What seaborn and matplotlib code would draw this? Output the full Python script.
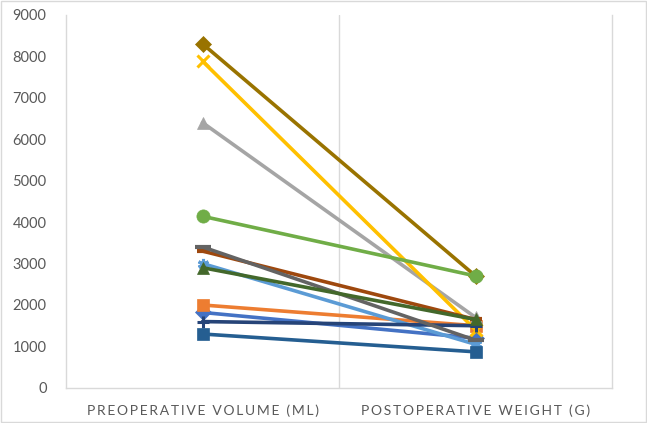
import matplotlib
matplotlib.use("Agg")
import matplotlib.pyplot as plt
import seaborn as sns
import pandas as pd

# data
categories = ["PREOPERATIVE VOLUME (ML)", "POSTOPERATIVE WEIGHT (G)"]
series_names = ["S1", "S2", "S3", "S4", "S5", "S6", "S7", "S8", "S9", "S10", "S11", "S12"]
pre_volume = [1820, 2000, 6400, 7880, 3000, 4140, 1600, 3300, 3400, 8300, 1300, 2900]
post_weight = [1200, 1500, 1700, 1400, 1050, 2700, 1500, 1650, 1150, 2700, 870, 1650]

colors = ["#4472C4", "#ED7D31", "#A5A5A5", "#FFC000", "#5B9BD5", "#70AD47",
          "#264478", "#9E480E", "#636363", "#997300", "#255E91", "#43682B"]
marks = ["D", "s", "^", "x", (6, 2, 0), "o", "+", "_", "_", "D", "s", "^"]

rows = []
for i, name in enumerate(series_names):
    rows.append({"series": name, "pos": 0, "value": pre_volume[i]})
    rows.append({"series": name, "pos": 1, "value": post_weight[i]})
df = pd.DataFrame(rows)

sns.set_style("white")
plt.rcParams["font.family"] = ["Lato", "DejaVu Sans"]

fig = plt.figure(figsize=(6.47, 4.23), dpi=100)
ax = fig.add_axes([0.102, 0.083, 0.844, 0.882])

for i, name in enumerate(series_names):
    m = marks[i]
    filled = m in ("D", "s", "^", "o")
    ms = 8
    mew = 0.5 if filled else 2.2
    if m == "_":
        ms = 11 if colors[i] == "#636363" else 9
        mew = 3
    if m == "o":
        ms = 9.5
    sns.lineplot(data=df[df["series"] == name], x="pos", y="value",
                 color=colors[i], marker=m, markersize=ms, markeredgewidth=mew,
                 markeredgecolor=colors[i], linewidth=2.6, ax=ax)
    # green circle sits on top in the original
    if m == "o":
        ax.get_lines()[-1].set_zorder(3)

ax.set_xlim(-0.5, 1.5)
ax.set_ylim(0, 9000)
ax.set_yticks(range(0, 9001, 1000))
ax.set_xticks([0, 1])
spaced = ["\u2009".join(c) for c in categories]
ax.set_xticklabels(spaced, fontsize=10, color="#595959")
ax.tick_params(axis="y", labelsize=10.5, labelcolor="#595959", length=0, pad=14)
ax.tick_params(axis="x", length=0, pad=12)
ax.set_xlabel("")
ax.set_ylabel("")
ax.axvline(0.5, color="#D9D9D9", linewidth=1, zorder=0)

for side in ["left", "right", "bottom"]:
    ax.spines[side].set_color("#D9D9D9")
    ax.spines[side].set_linewidth(1)
ax.spines["top"].set_visible(False)

# chart border
fig.patches.append(plt.Rectangle((0.002, 0.002), 0.996, 0.996, transform=fig.transFigure,
                                 fill=False, edgecolor="#D9D9D9", linewidth=1))

fig.savefig("out.png", dpi=100)
